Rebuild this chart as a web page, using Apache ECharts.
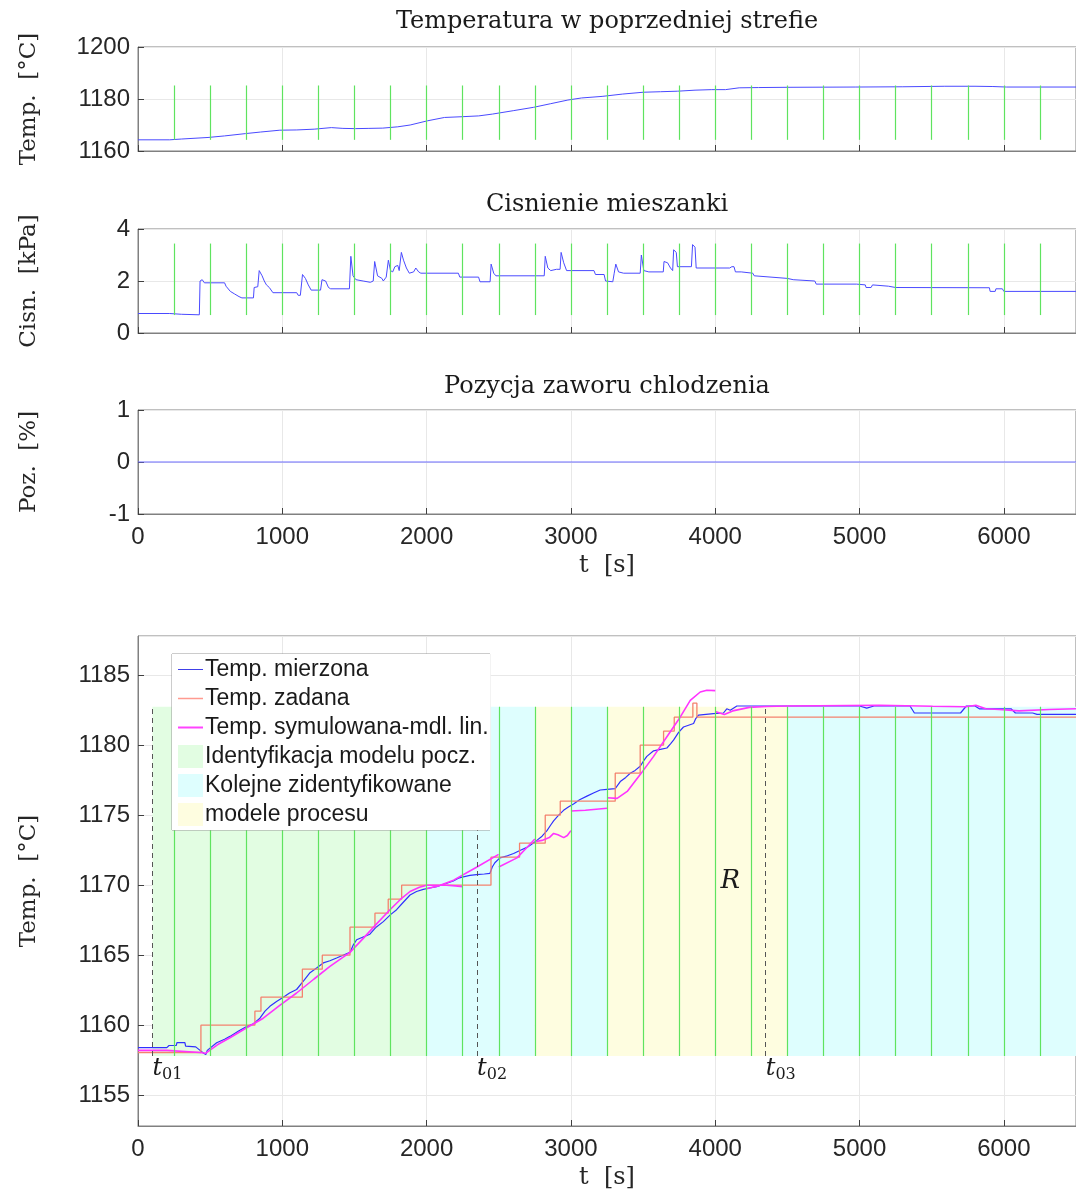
<!DOCTYPE html>
<html>
<head>
<meta charset="utf-8">
<script src="https://cdn.jsdelivr.net/npm/echarts@6/dist/echarts.min.js"></script>
<style>
  html, body { margin: 0; padding: 0; background: #fff; }
  #chart { width: 1076px; height: 1194px; }
</style>
</head>
<body>
<div id="chart"></div>
<script>
// ---- data ----
// panel 1: temperatura w poprzedniej strefie [t, degC]
var prevZoneTemp = [
  [0, 1164.3], [220, 1164.3], [300, 1164.6], [485, 1165.2], [600, 1165.8], [746, 1166.7],
  [850, 1167.3], [983, 1168.0], [1100, 1168.1], [1221, 1168.4], [1340, 1169.0], [1420, 1168.7],
  [1506, 1168.6], [1600, 1168.7], [1696, 1168.8], [1800, 1169.3], [1886, 1170.0], [2005, 1171.6],
  [2124, 1172.9], [2250, 1173.2], [2361, 1173.5], [2456, 1174.2], [2600, 1175.5], [2741, 1176.8],
  [2860, 1178.2], [2979, 1179.6], [3074, 1180.4], [3216, 1181.0], [3359, 1181.9], [3501, 1182.6],
  [3620, 1182.8], [3739, 1183.0], [3860, 1183.4], [3976, 1183.6], [4071, 1183.6], [4166, 1184.3],
  [4300, 1184.4], [4499, 1184.5], [4974, 1184.6], [5300, 1184.7], [5591, 1184.9], [5800, 1184.9],
  [5924, 1184.8], [6019, 1184.6], [6500, 1184.6]
];

// panel 2: cisnienie mieszanki [t, kPa]
var mixPressure = [
  [0, 0.75], [220, 0.75], [225, 0.72], [300, 0.72], [310, 0.7], [425, 0.7], [430, 2.0], [445, 2.05],
  [460, 1.93], [600, 1.93], [610, 1.8], [640, 1.6], [670, 1.5], [700, 1.4], [720, 1.35], [800, 1.35],
  [805, 1.75], [830, 1.78], [840, 2.4], [860, 2.2], [875, 2.0], [890, 1.85], [910, 1.75], [935, 1.55],
  [1100, 1.55], [1110, 1.45], [1125, 1.45], [1140, 2.25], [1160, 2.1], [1180, 1.85], [1200, 1.65],
  [1265, 1.65], [1275, 2.05], [1300, 2.0], [1320, 1.75], [1335, 1.7], [1465, 1.7], [1475, 2.95],
  [1490, 2.2], [1510, 2.05], [1560, 2.0], [1610, 1.95], [1630, 2.0], [1640, 2.75], [1660, 2.2],
  [1690, 2.1], [1700, 2.0], [1720, 2.15], [1735, 2.8], [1750, 2.4], [1765, 2.35], [1780, 2.55],
  [1800, 2.6], [1810, 2.4], [1825, 3.1], [1840, 2.8], [1860, 2.5], [1880, 2.3], [1910, 2.35],
  [1925, 2.5], [1945, 2.35], [1960, 2.3], [2220, 2.3], [2230, 2.15], [2360, 2.15], [2370, 1.97],
  [2440, 1.97], [2447, 2.65], [2465, 2.3], [2480, 2.2], [2815, 2.2], [2822, 2.95], [2840, 2.5],
  [2860, 2.4], [2900, 2.45], [2925, 2.45], [2932, 3.1], [2950, 2.7], [2970, 2.4], [3160, 2.4],
  [3170, 2.25], [3230, 2.25], [3240, 2.0], [3290, 1.97], [3300, 2.3], [3311, 2.65], [3330, 2.35],
  [3365, 2.3], [3480, 2.3], [3488, 3.0], [3505, 2.4], [3540, 2.35], [3640, 2.35], [3645, 2.75],
  [3670, 2.7], [3690, 2.5], [3705, 2.4], [3712, 3.2], [3730, 3.1], [3738, 2.55], [3835, 2.55],
  [3843, 3.4], [3860, 3.3], [3868, 2.5], [4100, 2.5], [4115, 2.55], [4130, 2.55], [4140, 2.35],
  [4180, 2.35], [4190, 2.3], [4260, 2.3], [4270, 2.2], [4500, 2.1], [4540, 2.05], [4550, 2.0],
  [4690, 2.0], [4700, 1.88], [4980, 1.88], [5040, 1.85], [5045, 1.75], [5080, 1.75], [5090, 1.85],
  [5200, 1.8], [5250, 1.75], [5900, 1.74], [5905, 1.6], [5940, 1.6], [5945, 1.7], [5990, 1.7],
  [6000, 1.6], [6500, 1.6]
];

// panel 3: pozycja zaworu chlodzenia [t, %]
var valvePos = [[0, 0], [6500, 0]];

// panel 4: temperatura mierzona / zadana / symulowana [t, degC]
var tempMeasured = [
  [0, 1158.4], [200, 1158.4], [215, 1158.55], [265, 1158.55], [270, 1158.75], [325, 1158.75],
  [330, 1158.5], [400, 1158.45], [430, 1158.2], [455, 1158.0], [470, 1157.9], [480, 1158.2],
  [545, 1158.75], [600, 1159.0], [637, 1159.2], [700, 1159.6], [753, 1159.9], [800, 1160.1],
  [845, 1160.5], [880, 1161.0], [914, 1161.35], [960, 1161.7], [1007, 1162.0], [1050, 1162.3],
  [1099, 1162.55], [1150, 1163.2], [1192, 1163.75], [1240, 1164.1], [1284, 1164.45], [1330, 1164.6],
  [1376, 1164.8], [1420, 1165.0], [1469, 1165.2], [1490, 1165.7], [1515, 1166.1], [1560, 1166.3],
  [1607, 1166.5], [1650, 1167.0], [1700, 1167.4], [1750, 1167.9], [1792, 1168.25], [1840, 1168.8],
  [1885, 1169.3], [1930, 1169.55], [1977, 1169.7], [2020, 1169.8], [2069, 1169.9], [2130, 1170.1],
  [2185, 1170.3], [2220, 1170.5], [2254, 1170.6], [2300, 1170.7], [2346, 1170.75], [2400, 1170.8],
  [2439, 1170.85], [2455, 1171.3], [2473, 1171.6], [2508, 1171.95], [2560, 1172.1], [2603, 1172.26],
  [2650, 1172.5], [2695, 1172.7], [2730, 1172.95], [2764, 1173.2], [2800, 1173.5], [2834, 1173.9],
  [2860, 1174.3], [2880, 1174.6], [2915, 1175.0], [2949, 1175.35], [2985, 1175.6], [3018, 1175.8],
  [3060, 1176.1], [3111, 1176.36], [3160, 1176.6], [3203, 1176.8], [3250, 1176.85], [3307, 1176.9],
  [3342, 1177.4], [3380, 1177.7], [3411, 1178.0], [3445, 1178.2], [3480, 1178.5], [3505, 1178.9],
  [3526, 1179.2], [3573, 1179.6], [3620, 1179.7], [3665, 1179.8], [3690, 1180.1], [3711, 1180.36],
  [3745, 1180.9], [3780, 1181.3], [3850, 1181.55], [3865, 1181.9], [3884, 1182.15], [3988, 1182.25],
  [4057, 1182.3], [4080, 1182.6], [4104, 1182.5], [4150, 1182.8], [4300, 1182.8], [5000, 1182.8],
  [5050, 1182.65], [5100, 1182.8], [5350, 1182.8], [5380, 1182.3], [5700, 1182.3], [5740, 1182.8],
  [5800, 1182.8], [5830, 1182.6], [6050, 1182.6], [6080, 1182.3], [6200, 1182.3], [6230, 1182.2],
  [6500, 1182.2]
];

var tempSetpoint = [
  [0, 1158.05], [436, 1158.05], [436, 1160], [810, 1160], [810, 1161], [852, 1161], [852, 1162],
  [1139, 1162], [1139, 1164], [1277, 1164], [1277, 1165], [1469, 1165], [1469, 1167], [1642, 1167],
  [1642, 1168], [1734, 1168], [1734, 1169], [1827, 1169], [1827, 1170], [2446, 1170], [2446, 1172],
  [2644, 1172], [2644, 1173], [2822, 1173], [2822, 1175], [2926, 1175], [2926, 1176], [3307, 1176],
  [3307, 1178], [3480, 1178], [3480, 1180], [3642, 1180], [3642, 1181], [3716, 1181], [3716, 1182],
  [3845, 1182], [3845, 1183], [3873, 1183], [3873, 1182], [6500, 1182]
];

// symulowana - kolejne modele liniowe (przerwy miedzy odcinkami)
var tempSimulated = [
  [0, 1158.2], [200, 1158.2], [430, 1158.05], [470, 1158.0], [550, 1158.6], [637, 1159.1],
  [750, 1159.8], [868, 1160.5], [980, 1161.4], [1099, 1162.3], [1220, 1163.3], [1330, 1164.2],
  [1469, 1165.2], [1561, 1166.2], [1650, 1167.2], [1746, 1168.25], [1820, 1169.0], [1885, 1169.55],
  [1950, 1169.85], [2000, 1170.0], [2070, 1170.0], [2139, 1170.0], [2200, 1169.95], [2250, 1169.9],
  '-',
  [2000, 1169.75], [2080, 1169.95], [2187, 1170.36], [2349, 1171.3], [2499, 1172.2],
  '-',
  [2500, 1171.3], [2626, 1171.95], [2700, 1172.75], [2750, 1173.3],
  '-',
  [2750, 1173.1], [2800, 1173.2], [2850, 1173.4], [2880, 1173.7], [2910, 1173.6], [2950, 1173.4],
  [2975, 1173.55], [3000, 1173.9],
  '-',
  [3000, 1175.3], [3100, 1175.35], [3250, 1175.5],
  '-',
  [3250, 1176.25], [3320, 1176.2], [3390, 1176.7], [3480, 1177.9], [3573, 1179.2], [3665, 1180.6],
  [3757, 1182.0], [3827, 1183.2], [3896, 1183.8], [3942, 1183.93], [4000, 1183.9],
  '-',
  [4000, 1182.4], [4063, 1182.2], [4121, 1182.45], [4236, 1182.7], [4352, 1182.76], [4500, 1182.8],
  [5136, 1182.85], [5506, 1182.78], [5736, 1182.75], [5806, 1182.85], [5875, 1182.6], [5967, 1182.55],
  [6105, 1182.45], [6313, 1182.55], [6500, 1182.6]
];

// chwile przelaczania (zielone linie), co 250 s
var switchTimes = [250, 500, 750, 1000, 1250, 1500, 1750, 2000, 2250, 2500, 2750, 3000, 3250,
  3500, 3750, 4000, 4250, 4500, 4750, 5000, 5250, 5500, 5750, 6000, 6250];

// obszary identyfikacji: [start, koniec]
var bandInitial = [[100, 2000]];
var bandCyan = [[2000, 2750], [3000, 3250], [4500, 6500]];
var bandYellow = [[2750, 3000], [3250, 4500]];
var bandLow = 1157.8, bandHigh = 1182.75;

var t0Marks = [['01', 100], ['02', 2350], ['03', 4350]];

var tickFont = 'Liberation Sans';
var serif = 'DejaVu Serif';
var axisGray = '#808080';

// layout (pixels)
var gridLeft = 138, gridWidth = 938;
var bottomTop = 636, bottomHeight = 490;
var tMax = 6500, yLow = 1152.8, yHigh = 1187.8;
var legendBox = { left: 172, top: 654, right: 490, bottom: 830 };

// part of the bottom panel covered by the legend, in axis units
var legendCut = {
  t0: (legendBox.left - gridLeft) / gridWidth * tMax,
  t1: (legendBox.right - gridLeft) / gridWidth * tMax,
  low: yHigh - (legendBox.bottom - bottomTop) / bottomHeight * (yHigh - yLow)
};

var chart = echarts.init(document.getElementById('chart'));

function plainNum(v) { return String(v); }

function gridBox(top, height) {
  return { left: gridLeft, top: top, width: gridWidth, height: height, show: true,
    borderColor: axisGray, borderWidth: 1, backgroundColor: '#fff' };
}

function xAx(i, showLabels, name) {
  return {
    type: 'value', gridIndex: i, min: 0, max: tMax, interval: 1000,
    name: name || '', nameLocation: 'middle', nameGap: 40,
    nameTextStyle: { fontFamily: serif, fontSize: 24, color: '#262626' },
    axisLine: { show: true, onZero: false, lineStyle: { color: axisGray } },
    axisTick: { show: true, inside: true, length: 6, lineStyle: { color: '#404040' } },
    axisLabel: { show: showLabels, fontFamily: tickFont, fontSize: 24, color: '#262626',
      margin: 11, showMaxLabel: false, formatter: plainNum },
    splitLine: { show: true, lineStyle: { color: '#e8e8e8' } }
  };
}

function yAx(i, min, max, interval, name) {
  var o = {
    type: 'value', gridIndex: i, min: min, max: max,
    name: name, nameLocation: 'middle', nameGap: 97, nameRotate: 90,
    nameTextStyle: { fontFamily: serif, fontSize: 23, color: '#262626' },
    axisLine: { show: true, lineStyle: { color: axisGray } },
    axisTick: { show: true, inside: true, length: 6, lineStyle: { color: '#404040' } },
    axisLabel: { fontFamily: tickFont, fontSize: 24, color: '#262626', margin: 8, formatter: plainNum },
    splitLine: { show: true, lineStyle: { color: '#e8e8e8' } }
  };
  if (interval) o.interval = interval; else o.splitNumber = 7;
  return o;
}

function inCut(t, cut) { return cut && t >= cut.t0 && t <= cut.t1; }

function switchLines(lo, hi, cut) {
  return {
    silent: true, symbol: 'none', label: { show: false },
    lineStyle: { color: '#5fe35f', type: 'solid', width: 1.2 },
    data: switchTimes.map(function (t) {
      return [{ coord: [t, lo] }, { coord: [t, inCut(t, cut) ? cut.low : hi] }];
    })
  };
}

// rectangles of the bands, leaving out the part behind the legend
function bandRects(bands, cut) {
  var out = [];
  bands.forEach(function (b) {
    if (!cut || b[1] <= cut.t0 || b[0] >= cut.t1) {
      out.push([b[0], b[1], bandLow, bandHigh]);
      return;
    }
    out.push([b[0], b[1], bandLow, cut.low]);
    if (b[0] < cut.t0) out.push([b[0], cut.t0, cut.low, bandHigh]);
    if (b[1] > cut.t1) out.push([cut.t1, b[1], cut.low, bandHigh]);
  });
  return out;
}

function bandArea(bands, color, cut) {
  return {
    silent: true, itemStyle: { color: color },
    data: bandRects(bands, cut).map(function (r) {
      return [{ coord: [r[0], r[2]] }, { coord: [r[1], r[3]] }];
    })
  };
}

var lineIcon = function (w) {
  var y = 11.5 - w / 2;
  return 'path://M0,0h0.01v0.01h-0.01z M0,' + y + 'h25v' + w + 'h-25z M24.99,22.99h0.01v0.01h-0.01z';
};

var titles = [
  ['Temperatura w poprzedniej strefie', 22],
  ['Cisnienie mieszanki', 205],
  ['Pozycja zaworu chlodzenia', 387]
];

var graphics = titles.map(function (tt) {
  return { type: 'text', x: 607, y: tt[1], style: { text: tt[0], fontFamily: serif, fontSize: 24,
    fill: '#1a1a1a', textAlign: 'center', textVerticalAlign: 'middle' } };
});
graphics.push({ type: 'rect', z: 90, silent: true,
  shape: { x: legendBox.left, y: legendBox.top, width: legendBox.right - legendBox.left,
           height: legendBox.bottom - legendBox.top },
  style: { fill: '#fff', stroke: '#999', lineWidth: 1 } });

var bottomMarks = switchLines(bandLow, bandHigh, legendCut);
t0Marks.forEach(function (tm) {
  bottomMarks.data.push([
    { coord: [tm[1], bandLow], lineStyle: { color: '#555', type: [5, 4], width: 1 } },
    { coord: [tm[1], inCut(tm[1], legendCut) ? legendCut.low : bandHigh] }
  ]);
});

chart.setOption({
  animation: false,
  grid: [gridBox(47, 104), gridBox(229, 104), gridBox(410, 104), gridBox(bottomTop, bottomHeight)],
  xAxis: [xAx(0, false), xAx(1, false), xAx(2, true, 't  [s]'), xAx(3, true, 't  [s]')],
  yAxis: [
    yAx(0, 1160, 1200, 20, 'Temp.  [°C]'),
    yAx(1, 0, 4, 2, 'Cisn.  [kPa]'),
    yAx(2, -1, 1, 1, 'Poz.  [%]'),
    (function () {
      var a = yAx(3, yLow, yHigh, null, 'Temp.  [°C]');
      a.axisLabel.showMinLabel = false;
      a.axisLabel.showMaxLabel = false;
      return a;
    })()
  ],
  legend: {
    orient: 'vertical', left: legendBox.left, top: legendBox.top, z: 100,
    backgroundColor: '#fff',
    padding: [4, 2, 4, 6], itemGap: 6, itemWidth: 25, itemHeight: 23,
    textStyle: { fontFamily: tickFont, fontSize: 23, color: '#1a1a1a', padding: [0, 0, 0, -3] },
    selectedMode: false,
    data: [
      { name: 'Temp. mierzona', icon: lineIcon(1), itemStyle: { color: '#4040e8' } },
      { name: 'Temp. zadana', icon: lineIcon(1.6), itemStyle: { color: '#ff9a90' } },
      { name: 'Temp. symulowana-mdl. lin.', icon: lineIcon(2), itemStyle: { color: '#ff44ff' } },
      { name: 'Identyfikacja modelu pocz.', icon: 'rect', itemStyle: { color: '#e2fde2' } },
      { name: 'Kolejne zidentyfikowane', icon: 'rect', itemStyle: { color: '#defefe' } },
      { name: 'modele procesu', icon: 'rect', itemStyle: { color: '#fefde0' } }
    ]
  },
  graphic: graphics,
  series: [
    // panel 1
    { type: 'line', xAxisIndex: 0, yAxisIndex: 0, data: prevZoneTemp, symbol: 'none', silent: true,
      lineStyle: { color: '#4a4aff', width: 1 }, markLine: switchLines(1164.3, 1185.2) },
    // panel 2
    { type: 'line', xAxisIndex: 1, yAxisIndex: 1, data: mixPressure, symbol: 'none', silent: true,
      lineStyle: { color: '#4a4aff', width: 1 }, markLine: switchLines(0.69, 3.44) },
    // panel 3
    { type: 'line', xAxisIndex: 2, yAxisIndex: 2, data: valvePos, symbol: 'none', silent: true,
      lineStyle: { color: '#6a6aff', width: 1 } },
    // panel 4 - tla identyfikacji
    { name: 'Identyfikacja modelu pocz.', type: 'line', xAxisIndex: 3, yAxisIndex: 3, data: [],
      itemStyle: { color: '#e2fde2' }, markArea: bandArea(bandInitial, '#e2fde2', legendCut) },
    { name: 'Kolejne zidentyfikowane', type: 'line', xAxisIndex: 3, yAxisIndex: 3, data: [],
      itemStyle: { color: '#defefe' }, markArea: bandArea(bandCyan, '#defefe', legendCut) },
    { name: 'modele procesu', type: 'line', xAxisIndex: 3, yAxisIndex: 3, data: [],
      itemStyle: { color: '#fefde0' }, markArea: bandArea(bandYellow, '#fefde0', legendCut) },
    // zielone linie + przerywane t0x
    { type: 'line', xAxisIndex: 3, yAxisIndex: 3, data: [], silent: true,
      markLine: bottomMarks,
      markPoint: {
        silent: true, symbol: 'circle', symbolSize: 0,
        data: t0Marks.map(function (tm) {
          return { coord: [tm[1], 1156.9], label: { show: true, position: 'right', distance: 0,
            formatter: '{t|t}{s|' + tm[0] + '}',
            rich: { t: { fontFamily: serif, fontStyle: 'italic', fontSize: 24, color: '#1a1a1a' },
                    s: { fontFamily: serif, fontSize: 16, color: '#1a1a1a', padding: [12, 0, 0, 0] } } } };
        }).concat([{ coord: [4105, 1170.3], label: { show: true, position: 'inside',
          formatter: 'R', fontFamily: serif, fontStyle: 'italic', fontSize: 26, color: '#1a1a1a' } }])
      } },
    { name: 'Temp. mierzona', type: 'line', xAxisIndex: 3, yAxisIndex: 3, data: tempMeasured,
      symbol: 'none', silent: true, lineStyle: { color: '#3030ff', width: 1.2 }, itemStyle: { color: '#4040e8' } },
    { name: 'Temp. zadana', type: 'line', xAxisIndex: 3, yAxisIndex: 3, data: tempSetpoint,
      symbol: 'none', silent: true, lineStyle: { color: '#f4826e', width: 1.3 }, itemStyle: { color: '#ff9a90' } },
    { name: 'Temp. symulowana-mdl. lin.', type: 'line', xAxisIndex: 3, yAxisIndex: 3, data: tempSimulated,
      symbol: 'none', silent: true, connectNulls: false, lineStyle: { color: '#ff33ff', width: 1.6 },
      itemStyle: { color: '#ff44ff' } }
  ]
});
</script>
</body>
</html>
